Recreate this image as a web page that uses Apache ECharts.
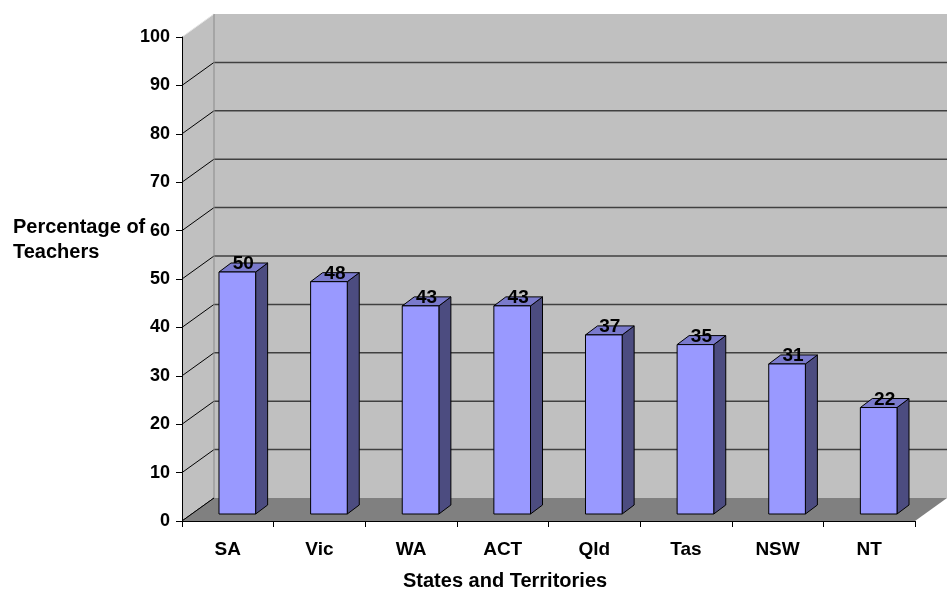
<!DOCTYPE html>
<html>
<head>
<meta charset="utf-8">
<script src="https://cdn.jsdelivr.net/npm/echarts/dist/echarts.min.js"></script>
<style>
  html, body { margin: 0; padding: 0; background: #fff; }
  #chart { width: 947px; height: 594px; }
</style>
</head>
<body>
<div id="chart"></div>
<script>
// Share of teachers per state / territory
const categories = ['SA', 'Vic', 'WA', 'ACT', 'Qld', 'Tas', 'NSW', 'NT'];
const percentages = [50, 48, 43, 43, 37, 35, 31, 22];
const yMin = 0;
const yMax = 100;
const yStep = 10;

// pseudo-3D geometry (pixels)
const WALL_DEPTH = [32, -23];   // offset of back wall relative to the front plane
const BAR_SHIFT = [9.5, -7];    // bars sit a little behind the front plane
const BAR_DEPTH = [12, -9];     // thickness of each bar
const BAR_WIDTH_RATIO = 0.4;

const FONT = '"Liberation Sans", Arial, sans-serif';

function renderWalls(params, api) {
  const cs = params.coordSys;
  const L = cs.x, R = cs.x + cs.width, T = cs.y, B = cs.y + cs.height;
  const dx = WALL_DEPTH[0], dy = WALL_DEPTH[1];
  const children = [];
  // back wall
  children.push({ type: 'polygon', shape: { points: [[L + dx, T + dy], [R + dx, T + dy], [R + dx, B + dy], [L + dx, B + dy]] },
    style: { fill: '#c0c0c0' } });
  // left side wall
  children.push({ type: 'polygon', shape: { points: [[L, B], [L + dx, B + dy], [L + dx, T + dy], [L, T]] },
    style: { fill: '#c0c0c0' } });
  // gridlines on both walls
  for (let v = yMin; v < yMax; v += yStep) {
    const y = api.coord([0, v])[1];
    if (v > yMin) {
      children.push({ type: 'line', shape: { x1: L + dx, y1: y + dy, x2: R + dx, y2: y + dy },
        style: { stroke: '#404040', lineWidth: 1.5 } });
    }
    children.push({ type: 'line', shape: { x1: L, y1: y, x2: L + dx, y2: y + dy },
      style: { stroke: '#000', lineWidth: 1 } });
  }
  // wall edges
  children.push({ type: 'line', shape: { x1: L, y1: T, x2: L + dx, y2: T + dy },
    style: { stroke: '#e6e6e6', lineWidth: 1 } });
  children.push({ type: 'line', shape: { x1: L + dx, y1: T + dy, x2: L + dx, y2: B + dy },
    style: { stroke: '#8a8a8a', lineWidth: 1 } });
  // floor
  children.push({ type: 'polygon', shape: { points: [[L, B], [R, B], [R + dx, B + dy], [L + dx, B + dy]] },
    style: { fill: '#808080' } });
  children.push({ type: 'line', shape: { x1: L, y1: B, x2: L + dx, y2: B + dy },
    style: { stroke: '#000', lineWidth: 1 } });
  return { type: 'group', children };
}

function renderBar(params, api) {
  const i = api.value(0), v = api.value(1);
  const top = api.coord([i, v]);
  const base = api.coord([i, 0]);
  const w = api.size([1, 0])[0] * BAR_WIDTH_RATIO;
  const x0 = top[0] + BAR_SHIFT[0] - w / 2, x1 = x0 + w;
  const yT = top[1] + BAR_SHIFT[1], yB = base[1] + BAR_SHIFT[1];
  const sx = BAR_DEPTH[0], sy = BAR_DEPTH[1];
  const edge = { stroke: '#000', lineWidth: 1 };
  return {
    type: 'group',
    children: [
      { type: 'polygon', shape: { points: [[x1, yT], [x1 + sx, yT + sy], [x1 + sx, yB + sy], [x1, yB]] },
        style: Object.assign({ fill: '#4c4c80' }, edge) },
      { type: 'polygon', shape: { points: [[x0, yT], [x1, yT], [x1 + sx, yT + sy], [x0 + sx, yT + sy]] },
        style: Object.assign({ fill: '#7a7acc' }, edge) },
      { type: 'rect', shape: { x: x0, y: yT, width: w, height: yB - yT },
        style: Object.assign({ fill: '#9999ff' }, edge) },
      { type: 'text', z2: 10,
        style: { text: String(v), x: (x0 + x1) / 2 + 6, y: yT - 8, align: 'center', verticalAlign: 'middle',
          fontFamily: FONT, fontWeight: 'bold', fontSize: 19, fill: '#000' } }
    ]
  };
}

const chart = echarts.init(document.getElementById('chart'), null, { renderer: 'canvas' });
chart.setOption({
  animation: false,
  backgroundColor: '#ffffff',
  grid: { left: 182, right: 32, top: 37, bottom: 73 },
  xAxis: {
    type: 'category',
    data: categories,
    z: 10,
    boundaryGap: true,
    axisLine: { lineStyle: { color: '#000', width: 1 } },
    axisTick: { show: true, length: 6, alignWithLabel: false, lineStyle: { color: '#000' } },
    axisLabel: { margin: 19, color: '#000', fontFamily: FONT, fontWeight: 'bold', fontSize: 19 }
  },
  yAxis: {
    type: 'value',
    min: yMin, max: yMax, interval: yStep,
    z: 10,
    axisLine: { show: true, lineStyle: { color: '#000', width: 1 } },
    axisTick: { show: true, length: 6, lineStyle: { color: '#000' } },
    axisLabel: { margin: 12, color: '#000', fontFamily: FONT, fontWeight: 'bold', fontSize: 18 },
    splitLine: { show: false }
  },
  graphic: [
    {
      type: 'text', left: 13, top: 215,
      style: { text: 'Percentage of\nTeachers', fontFamily: FONT, fontWeight: 'bold', fontSize: 20,
        lineHeight: 25, fill: '#000' }
    },
    {
      type: 'text', left: 403, top: 571,
      style: { text: 'States and Territories', fontFamily: FONT, fontWeight: 'bold', fontSize: 20, fill: '#000' }
    }
  ],
  series: [
    { type: 'custom', name: 'walls', silent: true, clip: false, z: 1,
      renderItem: renderWalls, data: [[0, 0]], encode: { x: 0, y: 1 } },
    { type: 'custom', name: 'Percentage of Teachers', silent: true, clip: false, z: 3,
      renderItem: renderBar, data: percentages.map((v, i) => [i, v]), encode: { x: 0, y: 1 } }
  ]
});
</script>
</body>
</html>
